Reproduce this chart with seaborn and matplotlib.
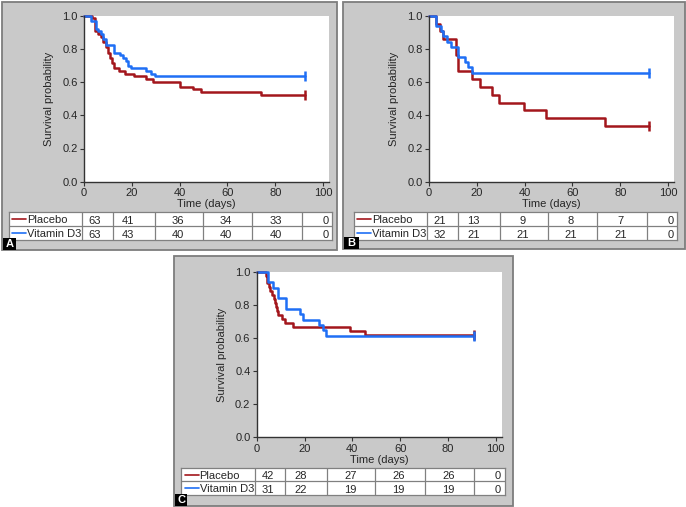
import numpy as np
import pandas as pd
import seaborn as sns
import matplotlib.pyplot as plt
from matplotlib.patches import Rectangle

# ---------------------------------------------------------------
# survival curves (time in days, survival prob)
a_placebo_t = [0, 3.5, 4.5, 6, 7, 8, 9, 10, 11, 11.7, 12.5, 14.5, 17, 21, 26, 29, 40, 45.5, 49, 74.2]
a_placebo_s = [1.0, 0.984, 0.905, 0.889, 0.873, 0.841, 0.810, 0.778, 0.746, 0.714, 0.683,
               0.667, 0.651, 0.635, 0.619, 0.603, 0.571, 0.556, 0.540, 0.524]
a_vitd_t = [0, 3, 5, 6, 7, 8, 9, 12.5, 15, 16.5, 17.5, 18.5, 19.5, 26, 28, 29.5]
a_vitd_s = [1.0, 0.968, 0.921, 0.905, 0.889, 0.857, 0.825, 0.778, 0.762, 0.746, 0.730,
            0.698, 0.683, 0.667, 0.651, 0.635]

b_placebo_t = [0, 2.9, 4.6, 5.9, 11.3, 12.2, 18.1, 21.4, 26.2, 29.3, 39.9, 48.8, 73.5]
b_placebo_s = [1.0, 0.952, 0.905, 0.857, 0.762, 0.667, 0.619, 0.571, 0.524, 0.476, 0.429, 0.381, 0.333]
b_vitd_t = [0, 3, 5, 6, 7.5, 9, 12, 15, 16.5, 17.8]
b_vitd_s = [1.0, 0.938, 0.906, 0.875, 0.844, 0.813, 0.750, 0.719, 0.688, 0.656]

c_placebo_t = [0, 4, 4.5, 5, 5.7, 6.5, 7.2, 7.7, 8.2, 8.6, 9.0, 10.7, 11.8, 15.3, 39, 45.5]
c_placebo_s = [1.0, 0.976, 0.929, 0.905, 0.881, 0.857, 0.833, 0.810, 0.786, 0.762, 0.738,
               0.714, 0.690, 0.667, 0.643, 0.619]
c_vitd_t = [0, 4.8, 6.9, 8.9, 12.3, 18, 19.2, 26, 27.7, 28.8]
c_vitd_s = [1.0, 0.935, 0.903, 0.839, 0.774, 0.742, 0.710, 0.677, 0.645, 0.613]

# last follow-up (censor mark at end of curve)
end_time = [92.3, 92, 91]

# numbers at risk
risk_times = [0, 20, 40, 60, 80, 100]
a_risk_placebo = [63, 41, 36, 34, 33, 0]
a_risk_vitd = [63, 43, 40, 40, 40, 0]
b_risk_placebo = [21, 13, 9, 8, 7, 0]
b_risk_vitd = [32, 21, 21, 21, 21, 0]
c_risk_placebo = [42, 28, 27, 26, 26, 0]
c_risk_vitd = [31, 22, 19, 19, 19, 0]

groups = ['Placebo', 'Vitamin D3']
colors = {'Placebo': '#a3161c', 'Vitamin D3': '#1f6ff5'}

# ---------------------------------------------------------------
sns.set_style('ticks')
plt.rcParams['font.family'] = ['Liberation Sans', 'DejaVu Sans']
plt.rcParams['font.size'] = 8

W, H = 686, 507
fig = plt.figure(figsize=(W / 100, H / 100), dpi=100)


def box(x0, y0, x1, y1):
    # pixel box -> figure fraction
    return [x0 / W, 1 - y1 / H, (x1 - x0) / W, (y1 - y0) / H]


XMAX = 102.5
AXW = 245
SC = AXW / XMAX           # px per day
TAB_LO, TAB_HI = -31.5, 103.7
cell_edges = [-0.8, 12, 29.5, 49.6, 70.3, 91.1]
num_x = [4.5, 18.5, 39.3, 59.3, 80.3, 102.3]

panels = [
    dict(tag='A', frame=(2, 2, 337, 250), ax=(84, 15.7, 181.7), tab=(212.3, 240), tagw=13,
         curves={'Placebo': (a_placebo_t, a_placebo_s), 'Vitamin D3': (a_vitd_t, a_vitd_s)},
         risk={'Placebo': a_risk_placebo, 'Vitamin D3': a_risk_vitd}, end=end_time[0]),
    dict(tag='B', frame=(343, 2, 685, 249), ax=(429, 15.7, 181.7), tab=(212.3, 240), tagw=15,
         curves={'Placebo': (b_placebo_t, b_placebo_s), 'Vitamin D3': (b_vitd_t, b_vitd_s)},
         risk={'Placebo': b_risk_placebo, 'Vitamin D3': b_risk_vitd}, end=end_time[1]),
    dict(tag='C', frame=(174, 256, 513, 506), ax=(256.7, 271.7, 437.3), tab=(467.7, 495), tagw=12,
         curves={'Placebo': (c_placebo_t, c_placebo_s), 'Vitamin D3': (c_vitd_t, c_vitd_s)},
         risk={'Placebo': c_risk_placebo, 'Vitamin D3': c_risk_vitd}, end=end_time[2]),
]

for p in panels:
    fx0, fy0, fx1, fy1 = p['frame']
    fig.add_artist(Rectangle((fx0 / W, 1 - fy1 / H), (fx1 - fx0) / W, (fy1 - fy0) / H,
                             transform=fig.transFigure, facecolor='#c9c9c9',
                             edgecolor='#7d7d7d', lw=1.3, zorder=0))
    # panel letter
    tw = p['tagw']
    fig.add_artist(Rectangle(((fx0 + 1) / W, 1 - fy1 / H), tw / W, 12 / H,
                             transform=fig.transFigure, facecolor='black', lw=0, zorder=1))
    fig.text((fx0 + 1 + tw / 2) / W, 1 - (fy1 - 6) / H, p['tag'], color='white',
             fontsize=8, fontweight='bold', ha='center', va='center')

    x0, y0, y1 = p['ax']
    ax = fig.add_axes(box(x0, y0, x0 + AXW, y1))
    ax.set_facecolor('white')

    rows = []
    for g in groups:
        t, s = p['curves'][g]
        for ti, si in zip(t + [p['end']], s + [s[-1]]):
            rows.append((g, ti, si))
    df = pd.DataFrame(rows, columns=['group', 'time', 'surv'])
    sns.lineplot(data=df, x='time', y='surv', hue='group', palette=colors,
                 drawstyle='steps-post', estimator=None, legend=False, lw=1.8, ax=ax)
    for g in groups:
        t, s = p['curves'][g]
        ax.plot([p['end']], [s[-1]], marker='|', ms=7, mew=1.8, color=colors[g], clip_on=False)
    for ln in ax.lines:
        ln.set_clip_on(False)

    ax.set_xlim(0, XMAX)
    ax.set_ylim(0, 1.0)
    ax.set_xticks(risk_times)
    ax.set_yticks([0, 0.2, 0.4, 0.6, 0.8, 1.0])
    ax.set_yticklabels([f'{v:.1f}' for v in [0, 0.2, 0.4, 0.6, 0.8, 1.0]])
    ax.set_xlabel('Time (days)', fontsize=8, labelpad=1)
    ax.set_ylabel('Survival probability', fontsize=8, labelpad=6)
    sns.despine(ax=ax)
    for sp in ['left', 'bottom']:
        ax.spines[sp].set_color('#333333')
        ax.spines[sp].set_linewidth(1.0)
    ax.tick_params(direction='out', length=3, width=0.8, pad=1.5, labelsize=8, color='#333333')

    # at-risk table, same day scale as the plot
    ty0, ty1 = p['tab']
    tax = fig.add_axes(box(x0 + TAB_LO * SC, ty0, x0 + TAB_HI * SC, ty1))
    tax.set_facecolor('white')
    tax.set_xlim(TAB_LO, TAB_HI)
    tax.set_ylim(0, 2)
    tax.set_xticks([])
    tax.set_yticks([])
    for sp in tax.spines.values():
        sp.set_color('#808080')
        sp.set_linewidth(0.9)
    for e in cell_edges:
        tax.axvline(e, color='#808080', lw=0.9)
    tax.axhline(1, color='#808080', lw=0.9)
    for g, ybase, yline in [('Placebo', 1.2, 1.5), ('Vitamin D3', 0.22, 0.52)]:
        tax.plot([-30.2, -24.3], [yline, yline], color=colors[g], lw=1.2)
        tax.text(-23.9, ybase, g, fontsize=8, ha='left', va='baseline')
        vals = p['risk'][g]
        for k, (xv, v) in enumerate(zip(num_x, vals)):
            tax.text(xv, ybase - 0.05, str(v), fontsize=8,
                     ha='right' if k == len(vals) - 1 else 'center', va='baseline')

fig.savefig('out.png', dpi=100)
